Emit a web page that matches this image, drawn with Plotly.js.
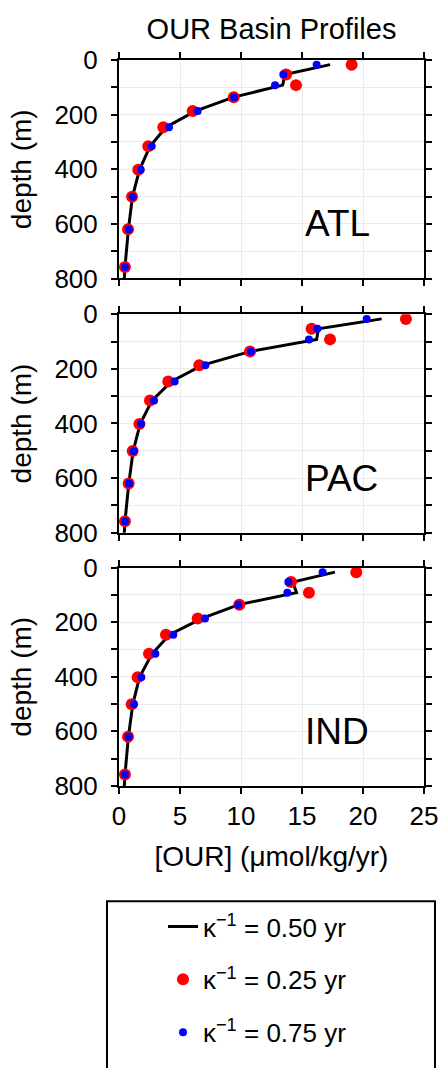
<!DOCTYPE html>
<html>
<head>
<meta charset="utf-8">
<script src="https://cdn.plot.ly/plotly-3.0.1.min.js"></script>
<style>
html,body{margin:0;padding:0;background:#fff;}
#chart{width:443px;height:1068px;}
</style>
</head>
<body>
<div id="chart"></div>
<script>
// depth levels (m); the last level lies below the plotted range
const depths = [17, 53, 92, 136, 187, 246, 316, 402, 501, 620, 758, 900];

const basins = ['ATL', 'PAC', 'IND'];
const seriesNames = ['κ<sup>−1</sup> = 0.50 yr', 'κ<sup>−1</sup> = 0.25 yr', 'κ<sup>−1</sup> = 0.75 yr'];

// kappa^-1 = 0.50 yr (line)
const atlMid = [17.3, 13.6, 13.42, 9.4, 6.25, 3.85, 2.54, 1.68, 1.1, 0.77, 0.49, 0.3];
const pacMid = [21.53, 16.34, 16.2, 10.78, 6.8, 4.3, 2.7, 1.73, 1.16, 0.8, 0.49, 0.3];
const indMid = [17.7, 14.25, 14.55, 9.82, 6.75, 4.15, 2.7, 1.68, 1.13, 0.77, 0.49, 0.3];

// kappa^-1 = 0.25 yr (red dots)
const atlFast = [19.07, 13.7, 14.51, 9.4, 6.04, 3.63, 2.4, 1.58, 1.07, 0.74, 0.49];
const pacFast = [23.52, 15.79, 17.3, 10.74, 6.58, 4.04, 2.54, 1.67, 1.12, 0.79, 0.49];
const indFast = [19.45, 14.1, 15.57, 9.86, 6.45, 3.85, 2.46, 1.53, 1.04, 0.74, 0.49];

// kappa^-1 = 0.75 yr (blue dots)
const atlSlow = [16.2, 13.47, 12.79, 9.43, 6.45, 4.1, 2.68, 1.78, 1.12, 0.79, 0.49];
const pacSlow = [20.3, 16.26, 15.57, 10.82, 7.08, 4.56, 2.87, 1.8, 1.2, 0.82, 0.49];
const indSlow = [16.69, 13.88, 13.8, 9.78, 7.05, 4.45, 2.98, 1.83, 1.23, 0.79, 0.49];

const xTicks = [0, 5, 10, 15, 20, 25];
const yTicks = [0, 200, 400, 600, 800];
const yMinorTicks = [100, 300, 500, 700];

const mids = [atlMid, pacMid, indMid];
const fasts = [atlFast, pacFast, indFast];
const slows = [atlSlow, pacSlow, indSlow];

const FONT = 'Liberation Sans, Arial, Helvetica, sans-serif';
const traces = [];
for (let i = 0; i < 3; i++) {
  const xa = i === 0 ? 'x' : 'x' + (i + 1);
  const ya = i === 0 ? 'y' : 'y' + (i + 1);
  traces.push({
    x: mids[i], y: depths, xaxis: xa, yaxis: ya, type: 'scatter', mode: 'lines',
    line: {color: '#000000', width: 3}, name: seriesNames[0],
    legendgroup: 'g0', showlegend: i === 0
  });
  traces.push({
    x: fasts[i], y: depths.slice(0, fasts[i].length), xaxis: xa, yaxis: ya, type: 'scatter', mode: 'markers',
    marker: {color: '#ff0000', size: 12}, name: seriesNames[1],
    legendgroup: 'g1', showlegend: i === 0
  });
  traces.push({
    x: slows[i], y: depths.slice(0, slows[i].length), xaxis: xa, yaxis: ya, type: 'scatter', mode: 'markers',
    marker: {color: '#0000ff', size: 8}, name: seriesNames[2],
    legendgroup: 'g2', showlegend: i === 0
  });
}

const axCommon = {
  showline: true, linecolor: '#000', linewidth: 2, mirror: 'ticks',
  ticks: 'outside', ticklen: 6, tickwidth: 2, tickcolor: '#000',
  showgrid: true, gridcolor: '#ebebeb', gridwidth: 1, zeroline: false,
  tickfont: {family: FONT, size: 26, color: '#000'}
};
function xAxis(anchor, labels) {
  const ax = Object.assign({}, axCommon, {
    anchor: anchor, range: [0, 25], tickmode: 'array', tickvals: xTicks,
    showticklabels: labels
  });
  if (labels) {
    ax.title = {text: '[OUR] (μmol/kg/yr)', font: {family: FONT, size: 28, color: '#000'}, standoff: 16};
  }
  return ax;
}
function yAxis(domain, anchor) {
  return Object.assign({}, axCommon, {
    anchor: anchor, domain: domain, range: [800, 0],
    tickmode: 'array', tickvals: yTicks,
    minor: {tickmode: 'array', tickvals: yMinorTicks, ticks: 'outside', ticklen: 6, tickwidth: 2,
            tickcolor: '#000', showgrid: true, gridcolor: '#ebebeb', gridwidth: 1},
    ticklabelstandoff: 8,
    title: {text: 'depth (m)', font: {family: FONT, size: 28, color: '#000'}, standoff: 15}
  });
}

const T = 60, B = 277, H = 1068, PH = H - T - B; // plot area 60..791
function py(p) { return (791 - p) / PH; }
function px(p) { return (p - 119) / 305; }

const layout = {
  width: 443, height: 1068,
  margin: {l: 119, r: 19, t: T, b: B},
  paper_bgcolor: '#fff', plot_bgcolor: '#fff',
  font: {family: FONT, color: '#000'},
  title: {text: 'OUR Basin Profiles', font: {family: FONT, size: 29, color: '#000'},
          xref: 'paper', x: 0.5, xanchor: 'center', yref: 'container', y: (H - 29) / H, yanchor: 'middle'},
  xaxis: xAxis('y', false),
  xaxis2: xAxis('y2', false),
  xaxis3: xAxis('y3', true),
  yaxis: yAxis([py(280), 1], 'x'),
  yaxis2: yAxis([py(536), py(316)], 'x2'),
  yaxis3: yAxis([0, py(571)], 'x3'),
  showlegend: true,
  legend: {
    x: px(163), xanchor: 'left', y: py(1063), yanchor: 'bottom',
    bgcolor: 'rgba(0,0,0,0)', borderwidth: 0,
    font: {family: FONT, size: 26, color: '#000'},
    traceorder: 'grouped', tracegroupgap: 16
  },
  shapes: [{
    type: 'rect', xref: 'paper', yref: 'paper',
    x0: px(107), x1: px(435), y0: py(907), y1: py(1080),
    line: {color: '#000', width: 2}, fillcolor: 'rgba(0,0,0,0)'
  }],
  annotations: basins.map((b, i) => ({
    text: b, xref: i === 0 ? 'x' : 'x' + (i + 1), yref: i === 0 ? 'y' : 'y' + (i + 1),
    x: 15.1, y: 600, xanchor: 'left', yanchor: 'middle', showarrow: false,
    font: {family: FONT, size: 37, color: '#000'}
  }))
};

Plotly.newPlot('chart', traces, layout, {displayModeBar: false, staticPlot: true});
</script>
</body>
</html>
